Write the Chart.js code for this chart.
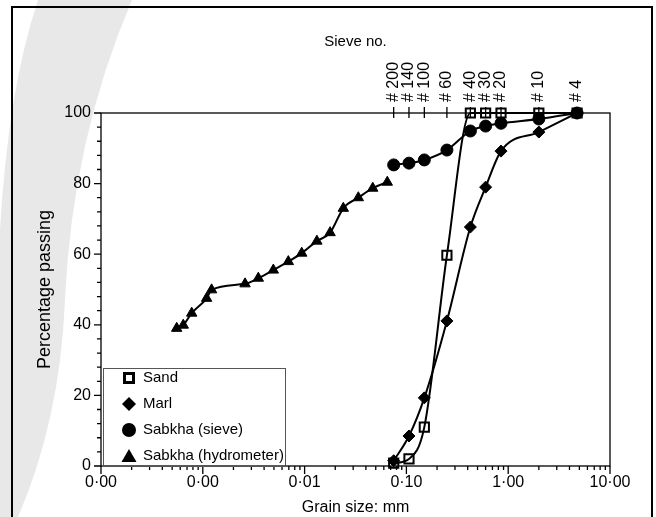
<!DOCTYPE html>
<html>
<head>
<meta charset="utf-8">
<script src="https://cdn.jsdelivr.net/npm/chart.js@4/dist/chart.umd.min.js"></script>
<style>
html,body{margin:0;padding:0;background:#fff;}
#wrap{width:656px;height:517px;position:relative;}
canvas{display:block;}
</style>
</head>
<body>
<div id="wrap"><canvas id="c" width="656" height="517"></canvas></div>
<script>
// ---- data (grain size in mm, percentage passing) ----
const sieveSizes = [0.075, 0.106, 0.15, 0.25, 0.425, 0.6, 0.85, 2.0, 4.75];
const sieveLabels = ['# 200', '# 140', '# 100', '# 60', '# 40', '# 30', '# 20', '# 10', '# 4'];
const sandPassing = [0.8, 2.0, 11.0, 59.7, 100, 100, 100, 100, 100];
const marlPassing = [1.5, 8.5, 19.3, 41.1, 67.7, 79.0, 89.2, 94.6, 100];
const sabkhaSievePassing = [85.3, 85.8, 86.7, 89.5, 94.9, 96.3, 97.1, 98.3, 100];
const hydroSizes = [0.000554, 0.000643, 0.000778, 0.00109, 0.00122, 0.00260, 0.00351, 0.00493,
                    0.00692, 0.00937, 0.0132, 0.0178, 0.0240, 0.0337, 0.0467, 0.0649];
const hydroPassing = [39.0, 39.9, 43.3, 47.5, 49.9, 51.6, 53.2, 55.5,
                      57.9, 60.3, 63.7, 66.1, 73.0, 76.0, 78.7, 80.4];
const seriesNames = ['Sand', 'Marl', 'Sabkha (sieve)', 'Sabkha (hydrometer)'];
const xTickValues = [0.0001, 0.001, 0.01, 0.1, 1, 10];
const xTickLabels = ['0·00', '0·00', '0·01', '0·10', '1·00', '10·00'];
const yTickValues = [0, 20, 40, 60, 80, 100];

const FONT = '"Liberation Sans", Arial, Helvetica, sans-serif';
Chart.defaults.font.family = FONT;
Chart.defaults.color = '#000';

function pts(xs, ys) { return xs.map((x, i) => ({x: x, y: ys[i]})); }
function isMajorX(v) { return xTickValues.some(m => Math.abs(Math.log10(v) - Math.log10(m)) < 1e-6); }

const common = {
  showLine: true, borderColor: '#000', borderWidth: 2, backgroundColor: '#000',
  pointBorderColor: '#000', cubicInterpolationMode: 'monotone', clip: false,
  pointHoverRadius: 6
};
const styles = [
  {pointStyle: 'rect', pointRadius: 6.5, pointBorderWidth: 2, pointBackgroundColor: 'rgba(255,255,255,0)'},
  {pointStyle: 'rectRot', pointRadius: 6, pointBorderWidth: 1, pointBackgroundColor: '#000'},
  {pointStyle: 'circle', pointRadius: 6, pointBorderWidth: 1, pointBackgroundColor: '#000'},
  {pointStyle: 'triangle', pointRadius: 6, pointBorderWidth: 1, pointBackgroundColor: '#000'}
];
const seriesData = [
  pts(sieveSizes, sandPassing),
  pts(sieveSizes, marlPassing),
  pts(sieveSizes, sabkhaSievePassing),
  pts(hydroSizes, hydroPassing)
];
const datasets = seriesNames.map((n, i) => Object.assign({label: n, data: seriesData[i]}, common, styles[i]));

// background + watermark
const bgPlugin = {
  id: 'bg',
  beforeDraw(chart) {
    const ctx = chart.ctx;
    ctx.save();
    ctx.fillStyle = '#fff';
    ctx.fillRect(0, 0, chart.width, chart.height);
    ctx.fillStyle = '#e8e8e8';
    ctx.beginPath();
    ctx.moveTo(38, 0);
    ctx.lineTo(132, 0);
    ctx.quadraticCurveTo(72, 140, 65, 300);
    ctx.quadraticCurveTo(60, 420, 18, 517);
    ctx.lineTo(0, 517);
    ctx.lineTo(0, 230);
    ctx.quadraticCurveTo(8, 90, 38, 0);
    ctx.closePath();
    ctx.fill();
    ctx.restore();
  }
};

// axis ticks, plot frame, legend, outer frame
const decoPlugin = {
  id: 'deco',
  afterDraw(chart) {
    const ctx = chart.ctx, a = chart.chartArea;
    const xs = chart.scales.x, ys = chart.scales.y, x2 = chart.scales.x2;
    ctx.save();
    ctx.strokeStyle = '#000';
    ctx.lineWidth = 1.3;
    ctx.strokeRect(a.left, a.top, a.right - a.left, a.bottom - a.top);
    ctx.beginPath();
    xs.ticks.forEach(t => {
      const p = xs.getPixelForValue(t.value);
      ctx.moveTo(p, a.bottom); ctx.lineTo(p, a.bottom + (isMajorX(t.value) ? 8 : 4));
    });
    ys.ticks.forEach(t => {
      const p = ys.getPixelForValue(t.value);
      ctx.moveTo(a.left, p); ctx.lineTo(a.left - (yTickValues.includes(t.value) ? 7 : 4), p);
    });
    x2.ticks.forEach(t => {
      const p = x2.getPixelForValue(t.value);
      ctx.moveTo(p, a.top - 6); ctx.lineTo(p, a.top + 5);
    });
    ctx.stroke();

    // legend
    const lx = 103, ly = 368, lw = 182, lh = a.bottom - 368;
    ctx.lineWidth = 1;
    ctx.strokeStyle = '#555';
    ctx.strokeRect(lx + 0.5, ly + 0.5, lw, lh);
    ctx.font = '15px ' + FONT;
    ctx.fillStyle = '#000';
    ctx.textBaseline = 'middle';
    ctx.textAlign = 'left';
    const rowY = [378, 404, 430, 456];
    const mx = 129;
    chart.data.datasets.forEach((ds, i) => {
      const y = rowY[i];
      ctx.fillStyle = '#000';
      ctx.strokeStyle = '#000';
      ctx.beginPath();
      if (ds.pointStyle === 'rect') {
        ctx.fillRect(mx - 6, y - 6, 12, 12);
        ctx.fillStyle = '#fff';
        ctx.fillRect(mx - 3, y - 3, 6, 6);
      } else if (ds.pointStyle === 'rectRot') {
        ctx.moveTo(mx, y - 7); ctx.lineTo(mx + 7, y); ctx.lineTo(mx, y + 7); ctx.lineTo(mx - 7, y);
        ctx.closePath(); ctx.fill();
      } else if (ds.pointStyle === 'circle') {
        ctx.arc(mx, y, 7, 0, Math.PI * 2); ctx.fill();
      } else {
        ctx.moveTo(mx, y - 7); ctx.lineTo(mx + 7.5, y + 6); ctx.lineTo(mx - 7.5, y + 6);
        ctx.closePath(); ctx.fill();
      }
      ctx.fillStyle = '#000';
      ctx.fillText(ds.label, 143, y);
    });

    // outer figure frame
    ctx.strokeStyle = '#000';
    ctx.lineWidth = 2;
    ctx.beginPath();
    ctx.moveTo(12, 517); ctx.lineTo(12, 7); ctx.lineTo(652, 7); ctx.lineTo(652, 517);
    ctx.stroke();
    ctx.restore();
  }
};

new Chart(document.getElementById('c'), {
  type: 'scatter',
  data: {datasets: datasets},
  options: {
    responsive: false,
    animation: false,
    devicePixelRatio: 1,
    layout: {padding: {left: 0, right: 46, top: 0, bottom: 0}},
    plugins: {legend: {display: false}, tooltip: {enabled: false}},
    scales: {
      x: {
        type: 'logarithmic', position: 'bottom', min: 0.0001, max: 10,
        afterBuildTicks(scale) {
          const t = [];
          xTickValues.forEach((m, i) => {
            t.push({value: m, major: true});
            if (i < xTickValues.length - 1) {
              for (let k = 2; k <= 9; k++) t.push({value: m * k, major: false});
            }
          });
          scale.ticks = t;
        },
        afterFit(scale) { scale.height = 51; },
        ticks: {
          autoSkip: false, maxRotation: 0, minRotation: 0, padding: 0,
          font: {size: 16},
          callback(v) {
            const idx = xTickValues.findIndex(m => Math.abs(Math.log10(v) - Math.log10(m)) < 1e-6);
            return idx >= 0 ? xTickLabels[idx] : '';
          }
        },
        grid: {drawOnChartArea: false, drawTicks: true, tickLength: 7, tickColor: 'rgba(0,0,0,0)'},
        border: {display: false},
        title: {display: true, text: 'Grain size: mm', font: {size: 16}, padding: {top: 0, bottom: 0}}
      },
      x2: {
        type: 'logarithmic', position: 'top', min: 0.0001, max: 10,
        afterBuildTicks(scale) { scale.ticks = sieveSizes.map(v => ({value: v})); },
        afterFit(scale) { scale.height = 113; },
        ticks: {
          autoSkip: false, maxRotation: 90, minRotation: 90, padding: 5, labelOffset: 19,
          font: {size: 16},
          callback(v, i) { return sieveLabels[i]; }
        },
        grid: {drawOnChartArea: false, drawTicks: true, tickLength: 6, tickColor: 'rgba(0,0,0,0)'},
        border: {display: false},
        title: {display: true, text: 'Sieve no.', font: {size: 15}, padding: {top: 33, bottom: 0}}
      },
      y: {
        type: 'linear', min: 0, max: 100,
        afterFit(scale) { scale.width = 101; },
        ticks: {
          stepSize: 4, autoSkip: false, padding: 3, font: {size: 16},
          callback(v) { return yTickValues.includes(v) ? String(v) : ''; }
        },
        grid: {drawOnChartArea: false, drawTicks: true, tickLength: 7, tickColor: 'rgba(0,0,0,0)'},
        border: {display: false},
        title: {display: true, text: 'Percentage passing', font: {size: 18}, padding: {top: 34, bottom: 0}}
      }
    }
  },
  plugins: [bgPlugin, decoPlugin]
});
</script>
</body>
</html>
